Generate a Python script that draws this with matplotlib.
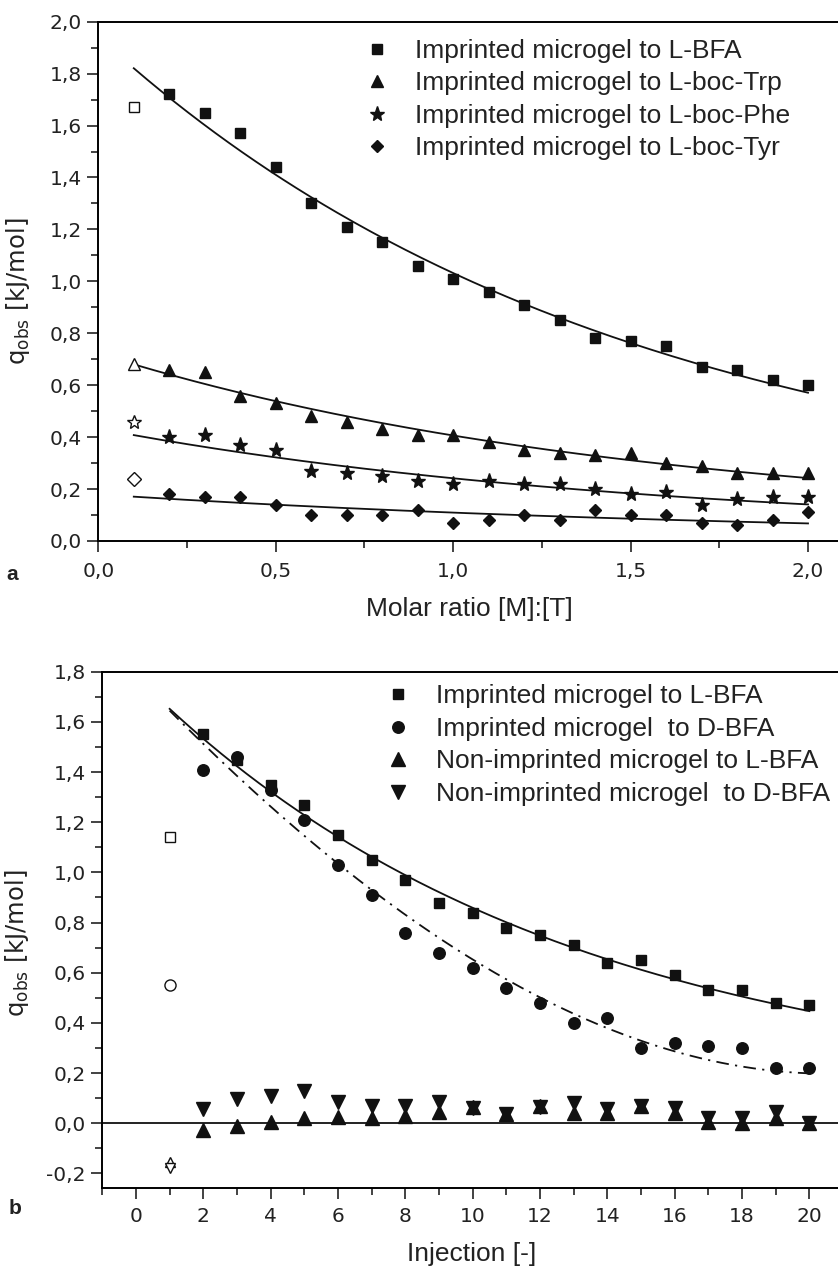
import numpy as np
import matplotlib
matplotlib.use("Agg")
import matplotlib.pyplot as plt
from matplotlib.ticker import MultipleLocator, FuncFormatter

# ---------------- panel a: titration against molar ratio ----------------
ratio = [0.2, 0.3, 0.4, 0.5, 0.6, 0.7, 0.8, 0.9, 1.0, 1.1,
         1.2, 1.3, 1.4, 1.5, 1.6, 1.7, 1.8, 1.9, 2.0]
ratio_first = 0.1

q_bfa = [1.72, 1.65, 1.57, 1.44, 1.30, 1.21, 1.15, 1.06, 1.01, 0.96,
         0.91, 0.85, 0.78, 0.77, 0.75, 0.67, 0.66, 0.62, 0.60]
q_trp = [0.66, 0.65, 0.56, 0.53, 0.48, 0.46, 0.43, 0.41, 0.41, 0.38,
         0.35, 0.34, 0.33, 0.34, 0.30, 0.29, 0.26, 0.26, 0.26]
q_phe = [0.40, 0.41, 0.37, 0.35, 0.27, 0.26, 0.25, 0.23, 0.22, 0.23,
         0.22, 0.22, 0.20, 0.18, 0.19, 0.14, 0.16, 0.17, 0.17]
q_tyr = [0.18, 0.17, 0.17, 0.14, 0.10, 0.10, 0.10, 0.12, 0.07, 0.08,
         0.10, 0.08, 0.12, 0.10, 0.10, 0.07, 0.06, 0.08, 0.11]

# first injection (excluded from the fit), same order as the legend
q_first_a = [1.67, 0.68, 0.46, 0.24]

labels_a = ["Imprinted microgel to L-BFA",
            "Imprinted microgel to L-boc-Trp",
            "Imprinted microgel to L-boc-Phe",
            "Imprinted microgel to L-boc-Tyr"]

# exponential decay fits  q = q_inf + A * exp(-x / tau)
fit_a = [(0.098, 1.844, 1.47),
         (0.065, 0.657, 1.527),
         (0.029, 0.404, 1.557),
         (0.007, 0.1725, 1.915)]

# ---------------- panel b: titration against injection number ----------------
injection = [2, 3, 4, 5, 6, 7, 8, 9, 10, 11, 12, 13, 14, 15, 16, 17, 18, 19, 20]
injection_first = 1

q_mip_l = [1.55, 1.45, 1.35, 1.27, 1.15, 1.05, 0.97, 0.88, 0.84, 0.78,
           0.75, 0.71, 0.64, 0.65, 0.59, 0.53, 0.53, 0.48, 0.47]
q_mip_d = [1.41, 1.46, 1.33, 1.21, 1.03, 0.91, 0.76, 0.68, 0.62, 0.54,
           0.48, 0.40, 0.42, 0.30, 0.32, 0.31, 0.30, 0.22, 0.22]
q_nip_l = [-0.025, -0.01, 0.005, 0.02, 0.025, 0.02, 0.03, 0.045, 0.065, 0.035,
           0.07, 0.04, 0.04, 0.07, 0.04, 0.005, 0.0, 0.02, 0.0]
q_nip_d = [0.055, 0.095, 0.11, 0.13, 0.085, 0.07, 0.07, 0.085, 0.06, 0.035,
           0.065, 0.08, 0.055, 0.07, 0.06, 0.02, 0.02, 0.045, 0.0]

q_first_b = [1.14, 0.55, -0.155, -0.18]

labels_b = ["Imprinted microgel to L-BFA",
            "Imprinted microgel  to D-BFA",
            "Non-imprinted microgel to L-BFA",
            "Non-imprinted microgel  to D-BFA"]

fit_b_l = (0.115, 1.666, 12.4)                          # exponential decay
fit_b_d = [3.3447e-5, 0.0023759, -0.14008, 1.78267]     # cubic polynomial

# ---------------- figure ----------------
W, H = 838, 1271
fig = plt.figure(figsize=(W / 100, H / 100), dpi=100)

LABEL_FONT = "Liberation Sans"
TICK_FONT = "DejaVu Sans"
plt.rcParams["mathtext.fontset"] = "dejavusans"


def axes_px(left, top, right, bottom):
    return fig.add_axes([left / W, 1 - bottom / H, (right - left) / W, (bottom - top) / H])


def comma(v, _pos):
    s = f"{v:.1f}".replace(".", ",")
    return "0,0" if s == "-0,0" else s


def style_axes(ax):
    for side in ("left", "bottom", "top"):
        ax.spines[side].set_linewidth(1.4)
    ax.spines["right"].set_visible(False)
    ax.tick_params(which="both", direction="out", top=False, right=False,
                   width=1.2, colors="#222222")
    ax.tick_params(which="major", length=8)
    ax.tick_params(which="minor", length=5)
    for lab in ax.get_xticklabels() + ax.get_yticklabels():
        lab.set_fontfamily(TICK_FONT)
        lab.set_fontsize(14.5)
        lab.set_color("#222222")


def decay(x, p):
    q_inf, amp, tau = p
    return q_inf + amp * np.exp(-np.asarray(x) / tau)


line_kw = dict(color="#111111", lw=1.3, zorder=2)
filled = dict(ls="none", color="#111111", mec="#111111", zorder=3)
hollow = dict(ls="none", mfc="white", mec="#111111", mew=1.0, zorder=3)
legend_kw = dict(frameon=False, numpoints=1, handlelength=1.0, handletextpad=0.94,
                 labelspacing=0.32, borderpad=0, borderaxespad=0, loc="upper left",
                 prop={"family": LABEL_FONT, "size": 19})

# ---- panel a ----
ax1 = axes_px(98.3, 21.7, 838, 541)
series_a = [q_bfa, q_trp, q_phe, q_tyr]
markers_a = [("s", 7.0, 7.0), ("^", 9.0, 9.0), ("*", 11.0, 10.5), ("D", 6.5, 7.0)]

xfit = np.linspace(ratio_first, ratio[-1], 200)
for p in fit_a:
    ax1.plot(xfit, decay(xfit, p), **line_kw)

handles = []
for q, first, lab, (m, ms, ms_open) in zip(series_a, q_first_a, labels_a, markers_a):
    h, = ax1.plot(ratio, q, marker=m, ms=ms, label=lab, **filled)
    ax1.plot([ratio_first], [first], marker=m, ms=ms_open, **hollow)
    handles.append(h)

ax1.set_xlim(0, 2.0845)
ax1.set_ylim(0, 2.0)
ax1.xaxis.set_major_locator(MultipleLocator(0.5))
ax1.xaxis.set_minor_locator(MultipleLocator(0.25))
ax1.yaxis.set_major_locator(MultipleLocator(0.2))
ax1.yaxis.set_minor_locator(MultipleLocator(0.1))
ax1.xaxis.set_major_formatter(FuncFormatter(comma))
ax1.yaxis.set_major_formatter(FuncFormatter(comma))
ax1.tick_params(axis="x", which="major", pad=7)
ax1.tick_params(axis="y", which="major", pad=4)
style_axes(ax1)

ax1.set_xlabel("Molar ratio [M]:[T]", fontfamily=LABEL_FONT, fontsize=19, color="#222222")
ax1.xaxis.set_label_coords(0.502, -0.107)
ax1.set_ylabel(r"q$_{\mathrm{obs}}$ [kJ/mol]", fontfamily=TICK_FONT, fontsize=17.5,
               color="#222222")
ax1.yaxis.label.set(ha="center", va="center")
ax1.yaxis.set_label_coords(-0.109, 0.481)

leg1 = ax1.legend(handles=handles, bbox_to_anchor=(363.8 / W, 1 - 39.0 / H),
                  bbox_transform=fig.transFigure, **legend_kw)
for t in leg1.get_texts():
    t.set_color("#222222")

# ---- panel b ----
ax2 = axes_px(102.3, 671.7, 838, 1187.7)

ax2.axhline(0, color="#111111", lw=1.3, zorder=2)
xb = np.linspace(injection_first, injection[-1], 300)
ax2.plot(xb, decay(xb, fit_b_l), **line_kw)
ax2.plot(xb, np.polyval(fit_b_d, xb), color="#111111", lw=1.3, zorder=2,
         linestyle=(0, (7, 3.5, 1.2, 3.5)))

series_b = [q_mip_l, q_mip_d, q_nip_l, q_nip_d]
markers_b = [("s", 7.2, 6.8), ("o", 8.3, 8.0), ("^", 9.5, 7.5), ("v", 9.5, 7.5)]
handles_b = []
for q, first, lab, (m, ms, ms_open) in zip(series_b, q_first_b, labels_b, markers_b):
    h, = ax2.plot(injection, q, marker=m, ms=ms, label=lab, **filled)
    ax2.plot([injection_first], [first], marker=m, ms=ms_open, **hollow)
    handles_b.append(h)

ax2.set_xlim(-1, 20.85)
ax2.set_ylim(-0.2568, 1.8)
ax2.xaxis.set_major_locator(MultipleLocator(2))
ax2.xaxis.set_minor_locator(MultipleLocator(1))
ax2.yaxis.set_major_locator(MultipleLocator(0.2))
ax2.yaxis.set_minor_locator(MultipleLocator(0.1))
ax2.xaxis.set_major_formatter(FuncFormatter(lambda v, _p: f"{int(round(v))}"))
ax2.yaxis.set_major_formatter(FuncFormatter(comma))
ax2.tick_params(axis="x", which="major", pad=6)
ax2.tick_params(axis="y", which="major", pad=4)
style_axes(ax2)

ax2.set_xlabel("Injection [-]", fontfamily=LABEL_FONT, fontsize=19, color="#222222")
ax2.xaxis.set_label_coords(0.502, -0.105)
ax2.set_ylabel(r"q$_{\mathrm{obs}}$ [kJ/mol]", fontfamily=TICK_FONT, fontsize=17.5,
               color="#222222")
ax2.yaxis.label.set(ha="center", va="center")
ax2.yaxis.set_label_coords(-0.1153, 0.474)

leg2 = ax2.legend(handles=handles_b, bbox_to_anchor=(385.1 / W, 1 - 684.5 / H),
                  bbox_transform=fig.transFigure, **legend_kw)
for t in leg2.get_texts():
    t.set_color("#222222")

# panel letters
fig.text(12 / W, 1 - 574 / H, "a", fontfamily=LABEL_FONT, fontweight="bold",
         fontsize=15, ha="center", va="center", color="#222222")
fig.text(15 / W, 1 - 1209 / H, "b", fontfamily=LABEL_FONT, fontweight="bold",
         fontsize=15, ha="center", va="center", color="#222222")

fig.savefig("out.png", dpi=100, facecolor="white")
